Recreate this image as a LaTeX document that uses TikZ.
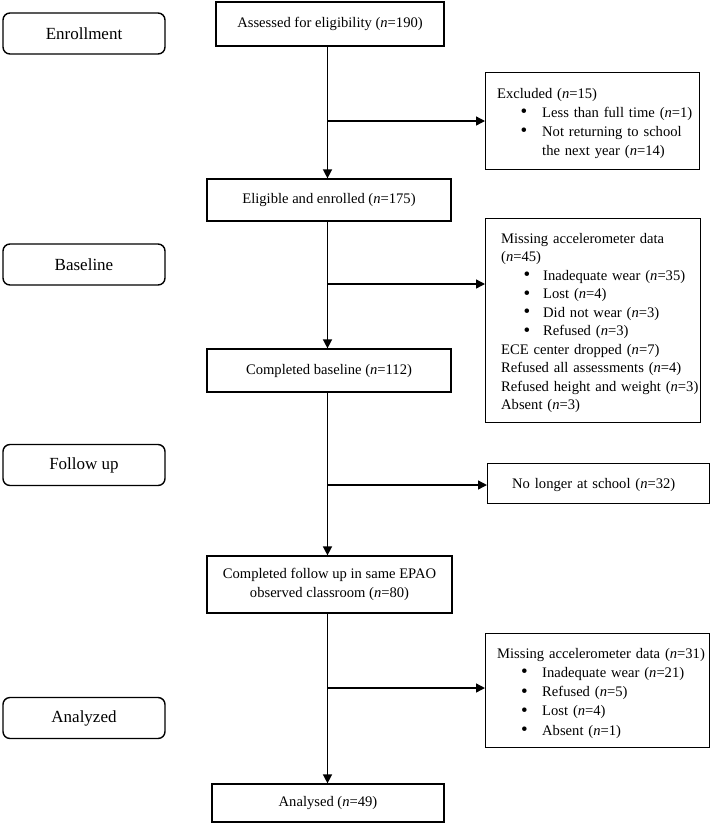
\documentclass[tikz,border=0pt]{standalone}
\usepackage{fontspec}
\setmainfont{Liberation Serif}
\usetikzlibrary{arrows.meta}
\newcommand\mybul[2]{\makebox[#2][l]{\hspace{#1}\raisebox{-0.6pt}{\fontsize{19}{19}\selectfont\textbullet}}}
\begin{document}
\begin{tikzpicture}[x=1pt,y=-1pt,
  stage/.style={draw, line width=1.4pt, rounded corners=7pt, minimum width=162pt, minimum height=41pt, inner sep=0pt, font=\fontsize{17}{20}\selectfont},
  mainbox/.style={draw, line width=1.2pt, inner sep=0pt, align=center, font=\fontsize{14.6}{19}\selectfont},
  sidebox/.style={draw, line width=1.2pt, inner sep=0pt, anchor=north west},
  txt/.style={inner sep=0pt, anchor=base west, text width=260pt, align=left},
  arr/.style={line width=1.4pt, -{Triangle[length=9pt,width=9pt]}}
]
\useasboundingbox (0,0) rectangle (710,823);

% stage labels
\node[stage] (enr) at (84,33.5) {Enrollment};
\node[stage] (bas) at (84,264.5) {Baseline};
\node[stage] (fol) at (84,465) {Follow up};
\node[stage] (ana) at (84,718) {Analyzed};

% main column
\node[mainbox, minimum width=228pt, minimum height=44pt] (assess) at (330,24) {Assessed for eligibility (\textit{n}=190)};
\node[mainbox, minimum width=244pt, minimum height=42pt] (elig) at (329,200) {Eligible and enrolled (\textit{n}=175)};
\node[mainbox, minimum width=244pt, minimum height=43pt] (cbase) at (329,370.5) {Completed baseline (\textit{n}=112)};
\node[mainbox, minimum width=245pt, minimum height=57pt] (cfol) at (329.5,584.5) {Completed follow up in same EPAO\\observed classroom (\textit{n}=80)};
\node[mainbox, minimum width=232pt, minimum height=38pt] (final) at (328,803) {Analysed (\textit{n}=49)};

% side boxes
\node[sidebox, minimum width=214pt, minimum height=97pt] (excl) at (485,72) {};
\node[txt, font=\fontsize{14.6}{19}\selectfont] (exclt) at (497,98) {Excluded (\textit{n}=15)\\
\mybul{23.5pt}{45pt}Less than full time (\textit{n}=1)\\
\mybul{23.5pt}{45pt}Not returning to school\\
\hspace*{45pt}the next year (\textit{n}=14)};

\node[sidebox, minimum width=215pt, minimum height=204pt] (miss1) at (485,218) {};
\node[txt, font=\fontsize{14.6}{18.55}\selectfont] (miss1t) at (501,243) {Missing accelerometer data\\
(\textit{n}=45)\\
\mybul{22.5pt}{42pt}Inadequate wear (\textit{n}=35)\\
\mybul{22.5pt}{42pt}Lost (\textit{n}=4)\\
\mybul{22.5pt}{42pt}Did not wear (\textit{n}=3)\\
\mybul{22.5pt}{42pt}Refused (\textit{n}=3)\\
ECE center dropped (\textit{n}=7)\\
Refused all assessments (\textit{n}=4)\\
Refused height and weight (\textit{n}=3)\\
Absent (\textit{n}=3)};

\node[sidebox, minimum width=222pt, minimum height=40pt] (gone) at (487,463) {};
\node[txt, font=\fontsize{14.6}{19}\selectfont] (gonet) at (512,488) {No longer at school (\textit{n}=32)};

\node[sidebox, minimum width=224pt, minimum height=114pt] (miss2) at (485,633) {};
\node[txt, font=\fontsize{14.6}{19.25}\selectfont] (miss2t) at (497,658) {Missing accelerometer data (\textit{n}=31)\\
\mybul{24pt}{45pt}Inadequate wear (\textit{n}=21)\\
\mybul{24pt}{45pt}Refused (\textit{n}=5)\\
\mybul{24pt}{45pt}Lost (\textit{n}=4)\\
\mybul{24pt}{45pt}Absent (\textit{n}=1)};

% branch points
\coordinate (b1) at (327.5,121);
\coordinate (b2) at (327.5,284);
\coordinate (b3) at (327.5,485);
\coordinate (b4) at (327.5,688);

% connectors
\draw[arr] (assess.south -| b1) -- (elig.north -| b1);
\draw[arr] (elig.south -| b2) -- (cbase.north -| b2);
\draw[arr] (cbase.south -| b3) -- (cfol.north -| b3);
\draw[arr] (cfol.south -| b4) -- (final.north -| b4);
\draw[arr] (b1) -- (b1 -| excl.west);
\draw[arr] (b2) -- (b2 -| miss1.west);
\draw[arr] (b3) -- (b3 -| gone.west);
\draw[arr] (b4) -- (b4 -| miss2.west);
\end{tikzpicture}
\end{document}
